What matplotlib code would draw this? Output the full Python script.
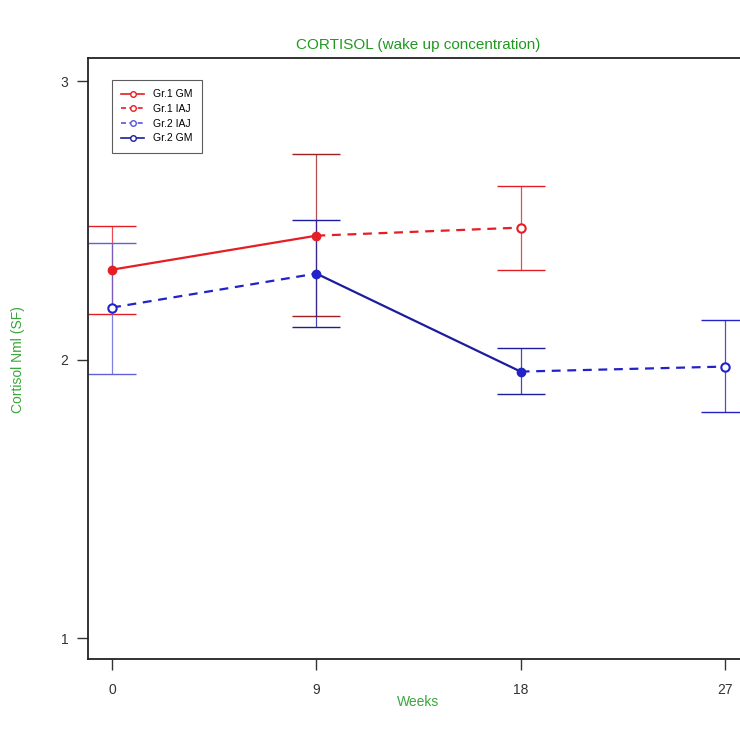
import matplotlib
matplotlib.use("Agg")
import matplotlib.pyplot as plt
from matplotlib.lines import Line2D

plt.rcParams['font.family'] = ['Liberation Sans', 'DejaVu Sans']

week_labels = ["0", "9", "18", "27"]
positions = [1, 2, 3, 4]

# Gr.1 GM (red, solid, filled)
g1gm_x = [1, 2]
g1gm_y = [2.323, 2.445]
g1gm_lo = [2.162, 2.158]
g1gm_hi = [2.481, 2.740]

# Gr.1 IAJ (red, dashed, open at end)
g1iaj_x = [2, 3]
g1iaj_y = [2.445, 2.474]
g1iaj_lo = [None, 2.323]
g1iaj_hi = [None, 2.625]

# Gr.2 IAJ (blue, dashed, open)
g2iaj_x1 = [1, 2]
g2iaj_y1 = [2.187, 2.309]
g2iaj_x2 = [3, 4]
g2iaj_y2 = [1.957, 1.975]
g2iaj_lo = [1.950, 1.813]
g2iaj_hi = [2.420, 2.144]

# Gr.2 GM (blue, solid, filled)
g2gm_x = [2, 3]
g2gm_y = [2.309, 1.957]
g2gm_lo = [2.118, 1.878]
g2gm_hi = [2.503, 2.043]

RED = '#e51e25'
BLUE = '#2222c8'
NAVY = '#1c1c9e'
GREEN = '#1f9a1f'

fig = plt.figure(figsize=(7.4, 7.35), dpi=100)
ax = fig.add_axes([88/740, 1-659/735, (749-88)/740, (659-58)/735])


def ebar(x, lo, hi, color, lw=0.9):
    ax.vlines(x, lo, hi, color=color, lw=lw, alpha=0.8)
    for v in (lo, hi):
        ax.hlines(v, x-0.118, x+0.118, color=color, lw=1.0)


# error bars
ebar(1, g1gm_lo[0], g1gm_hi[0], RED)
ebar(2, g1gm_lo[1], g1gm_hi[1], '#a02020')
ebar(3, g1iaj_lo[1], g1iaj_hi[1], RED)
ebar(1, g2iaj_lo[0], g2iaj_hi[0], '#6060d8')
ebar(2, g2gm_lo[0], g2gm_hi[0], NAVY)
ebar(3, g2gm_lo[1], g2gm_hi[1], NAVY)
ebar(4, g2iaj_lo[1], g2iaj_hi[1], BLUE)

# lines
ax.plot(g1gm_x, g1gm_y, color=RED, lw=1.6, marker='o', ms=6, mfc=RED, mec=RED, zorder=4)
ax.plot(g1iaj_x, g1iaj_y, color=RED, lw=1.6, ls=(0, (4, 3)), zorder=3)
ax.plot([g1iaj_x[1]], [g1iaj_y[1]], marker='o', ms=6, mfc='white', mec=RED, mew=1.5, ls='none', zorder=5)
ax.plot(g2iaj_x1, g2iaj_y1, color=BLUE, lw=1.6, ls=(0, (4, 3)), zorder=3)
ax.plot(g2iaj_x2, g2iaj_y2, color=BLUE, lw=1.6, ls=(0, (4, 3)), zorder=3)
ax.plot([g2iaj_x1[0]], [g2iaj_y1[0]], marker='o', ms=6, mfc='white', mec=BLUE, mew=1.5, ls='none', zorder=5)
ax.plot([g2iaj_x2[1]], [g2iaj_y2[1]], marker='o', ms=6, mfc='white', mec=BLUE, mew=1.5, ls='none', zorder=5)
ax.plot(g2gm_x, g2gm_y, color=NAVY, lw=1.6, marker='o', ms=6, mfc=BLUE, mec=BLUE, zorder=4)

ax.set_xlim(0.882, 4.118)
ax.set_ylim(0.925, 3.083)
ax.set_xticks(positions)
ax.set_xticklabels(week_labels)
ax.set_yticks([1, 2, 3])
ax.tick_params(axis='both', direction='out', length=8, width=1, labelsize=10, colors='#333333', pad=6)
ax.tick_params(axis='x', pad=9)
for s in ax.spines.values():
    s.set_linewidth(1.3)
    s.set_color('#222222')

fig.text(418/740, 1-45/735, 'CORTISOL (wake up concentration)', color=GREEN, fontsize=11,
         ha='center', va='center')
fig.text(418/740, 1-702/735, 'Weeks', color='#3aa63a', fontsize=10, ha='center', va='center')
fig.text(18/740, 1-360/735, 'Cortisol Nml (SF)', color='#3aa63a', fontsize=10,
         rotation=90, ha='center', va='center')

handles = [
    Line2D([], [], color=RED, lw=1.2, marker='o', ms=4, mfc='white', mec=RED),
    Line2D([], [], color=RED, lw=1.2, ls=(0, (3, 2)), marker='o', ms=4, mfc='white', mec=RED),
    Line2D([], [], color='#5555dd', lw=1.2, ls=(0, (3, 2)), marker='o', ms=4, mfc='white', mec='#5555dd'),
    Line2D([], [], color=NAVY, lw=1.2, marker='o', ms=4, mfc='white', mec=NAVY),
]
labels = ['Gr.1 GM', 'Gr.1 IAJ', 'Gr.2 IAJ', 'Gr.2 GM']
leg = ax.legend(handles, labels, loc='upper left', bbox_to_anchor=((112-88)/661, (659-80)/601),
                fontsize=7.5, frameon=True, fancybox=False, handlelength=2.2,
                borderpad=0.9, labelspacing=0.45, handletextpad=0.8, borderaxespad=0)
leg.get_frame().set_edgecolor('#333333')
leg.get_frame().set_linewidth(0.8)

fig.savefig('out.png', dpi=100)
